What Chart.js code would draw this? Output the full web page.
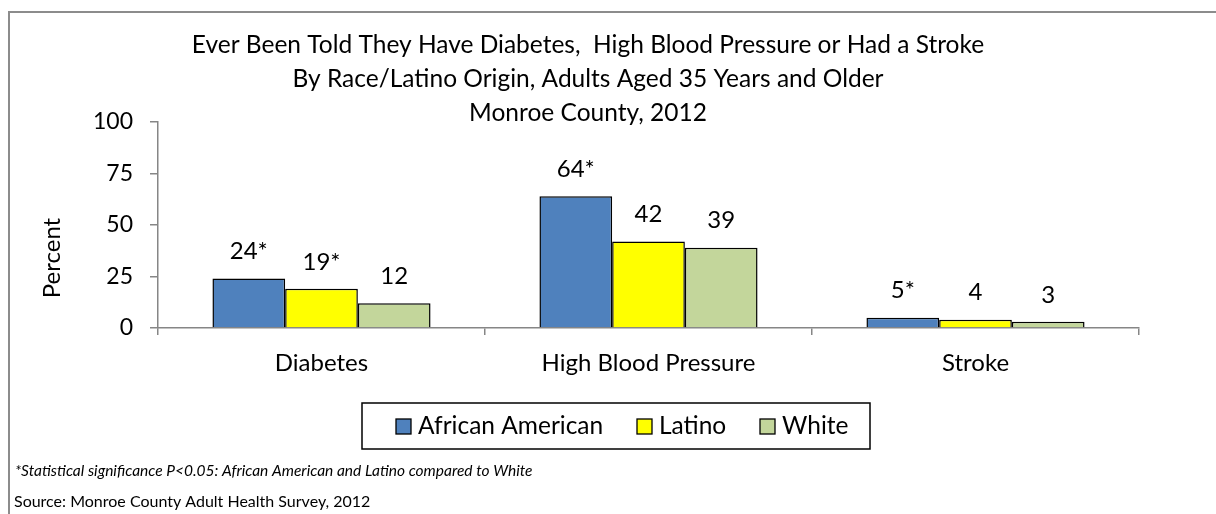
<!DOCTYPE html>
<html>
<head>
<meta charset="utf-8">
<script src="https://cdn.jsdelivr.net/npm/chart.js@4"></script>
<style>
  html, body { margin: 0; padding: 0; background: #fff; }
  #wrap { position: relative; width: 1216px; height: 514px; }
</style>
</head>
<body>
<div id="wrap"><canvas id="c" width="1216" height="514"></canvas></div>
<script>
// Categories and series (percent of adults 35+)
const categories = ['Diabetes', 'High Blood Pressure', 'Stroke'];
const seriesNames = ['African American', 'Latino', 'White'];
const africanAmerican = [24, 64, 5];
const latino = [19, 42, 4];
const white = [12, 39, 3];
// significance marker (* = significant vs White)
const africanAmericanSig = [true, true, true];
const latinoSig = [true, false, false];
const whiteSig = [false, false, false];
const yTicks = [0, 25, 50, 75, 100];

const titleLines = [
  'Ever Been Told They Have Diabetes,  High Blood Pressure or Had a Stroke',
  'By Race/Latino Origin, Adults Aged 35 Years and Older',
  'Monroe County, 2012'
];
const footnote = '*Statistical significance P<0.05: African American and Latino compared to White';
const sourceNote = 'Source: Monroe County Adult Health Survey, 2012';

const FONT = 'Lato, "Open Sans", sans-serif';
const AXIS = '#868686';

const colors = ['#4F81BD', '#FFFF00', '#C3D69B'];
const values = [africanAmerican, latino, white];
const sigs = [africanAmericanSig, latinoSig, whiteSig];

const datasets = seriesNames.map((name, i) => ({
  label: name,
  data: values[i],
  sig: sigs[i],
  backgroundColor: colors[i],
  borderColor: '#000',
  borderWidth: 1.5,
  borderSkipped: 'bottom',
  barPercentage: 1.0,
  categoryPercentage: 0.667
}));

// frame, title, axis title, value labels, legend box and notes
const decor = {
  id: 'decor',
  beforeDraw(chart) {
    const ctx = chart.ctx;
    ctx.save();
    ctx.fillStyle = '#fff';
    ctx.fillRect(0, 0, chart.width, chart.height);
    ctx.strokeStyle = '#8c8c8c';
    ctx.lineWidth = 2;
    ctx.beginPath();
    ctx.moveTo(9, chart.height + 2);
    ctx.lineTo(9, 12);
    ctx.lineTo(chart.width + 2, 12);
    ctx.stroke();
    ctx.restore();
  },
  afterDraw(chart) {
    const ctx = chart.ctx;
    ctx.save();
    ctx.fillStyle = '#000';
    ctx.textBaseline = 'middle';
    ctx.textAlign = 'center';
    // title
    ctx.font = '24.5px ' + FONT;
    const titleY = [45, 79, 113];
    titleLines.forEach((t, i) => ctx.fillText(t, 588, titleY[i]));
    // y axis title
    ctx.save();
    ctx.translate(52, 258);
    ctx.rotate(-Math.PI / 2);
    ctx.font = '24px ' + FONT;
    ctx.fillText('Percent', 0, 0);
    ctx.restore();
    // value labels
    ctx.font = '24px ' + FONT;
    chart.data.datasets.forEach((ds, di) => {
      const meta = chart.getDatasetMeta(di);
      meta.data.forEach((bar, j) => {
        const txt = ds.data[j] + (ds.sig[j] ? '*' : '');
        ctx.fillText(txt, bar.x, bar.y - 27);
      });
    });
    // legend
    const lx = 362, ly = 403, lw = 508, lh = 46;
    ctx.fillStyle = '#fff';
    ctx.fillRect(lx, ly, lw, lh);
    ctx.strokeStyle = '#000';
    ctx.lineWidth = 1.5;
    ctx.strokeRect(lx, ly, lw, lh);
    const itemX = [396, 637, 760];
    ctx.textAlign = 'left';
    ctx.font = '24.5px ' + FONT;
    chart.data.datasets.forEach((ds, i) => {
      ctx.fillStyle = ds.backgroundColor;
      ctx.fillRect(itemX[i], 419, 15, 15);
      ctx.strokeStyle = '#000';
      ctx.lineWidth = 1.3;
      ctx.strokeRect(itemX[i], 419, 15, 15);
      ctx.fillStyle = '#000';
      ctx.fillText(ds.label, itemX[i] + 22, 426);
    });
    // notes
    ctx.font = 'italic 15.5px ' + FONT;
    ctx.fillText(footnote, 15, 471);
    ctx.font = '16px ' + FONT;
    ctx.fillText(sourceNote, 14, 502);
    ctx.restore();
  }
};

new Chart(document.getElementById('c'), {
  type: 'bar',
  data: { labels: categories, datasets },
  options: {
    responsive: false,
    animation: false,
    devicePixelRatio: 1,
    layout: { padding: { top: 122, right: 77, bottom: 0, left: 0 } },
    plugins: { legend: { display: false }, title: { display: false }, tooltip: { enabled: false } },
    scales: {
      x: {
        afterFit(s) { s.height = 186; },
        grid: { display: true, drawOnChartArea: false, drawTicks: true, tickLength: 7, offset: true, color: AXIS, lineWidth: 1.5 },
        border: { display: true, color: AXIS, width: 1.5 },
        ticks: { color: '#000', font: { family: FONT, size: 24 }, padding: 14, maxRotation: 0 }
      },
      y: {
        min: 0, max: 100,
        afterFit(s) { s.width = 158; },
        afterBuildTicks(s) { s.ticks = yTicks.map(v => ({ value: v })); },
        grid: { display: true, drawOnChartArea: false, drawTicks: true, tickLength: 8, color: AXIS, lineWidth: 1.5 },
        border: { display: true, color: AXIS, width: 1.5 },
        ticks: { color: '#000', font: { family: FONT, size: 23 }, padding: 17 }
      }
    }
  },
  plugins: [decor]
});
</script>
</body>
</html>
